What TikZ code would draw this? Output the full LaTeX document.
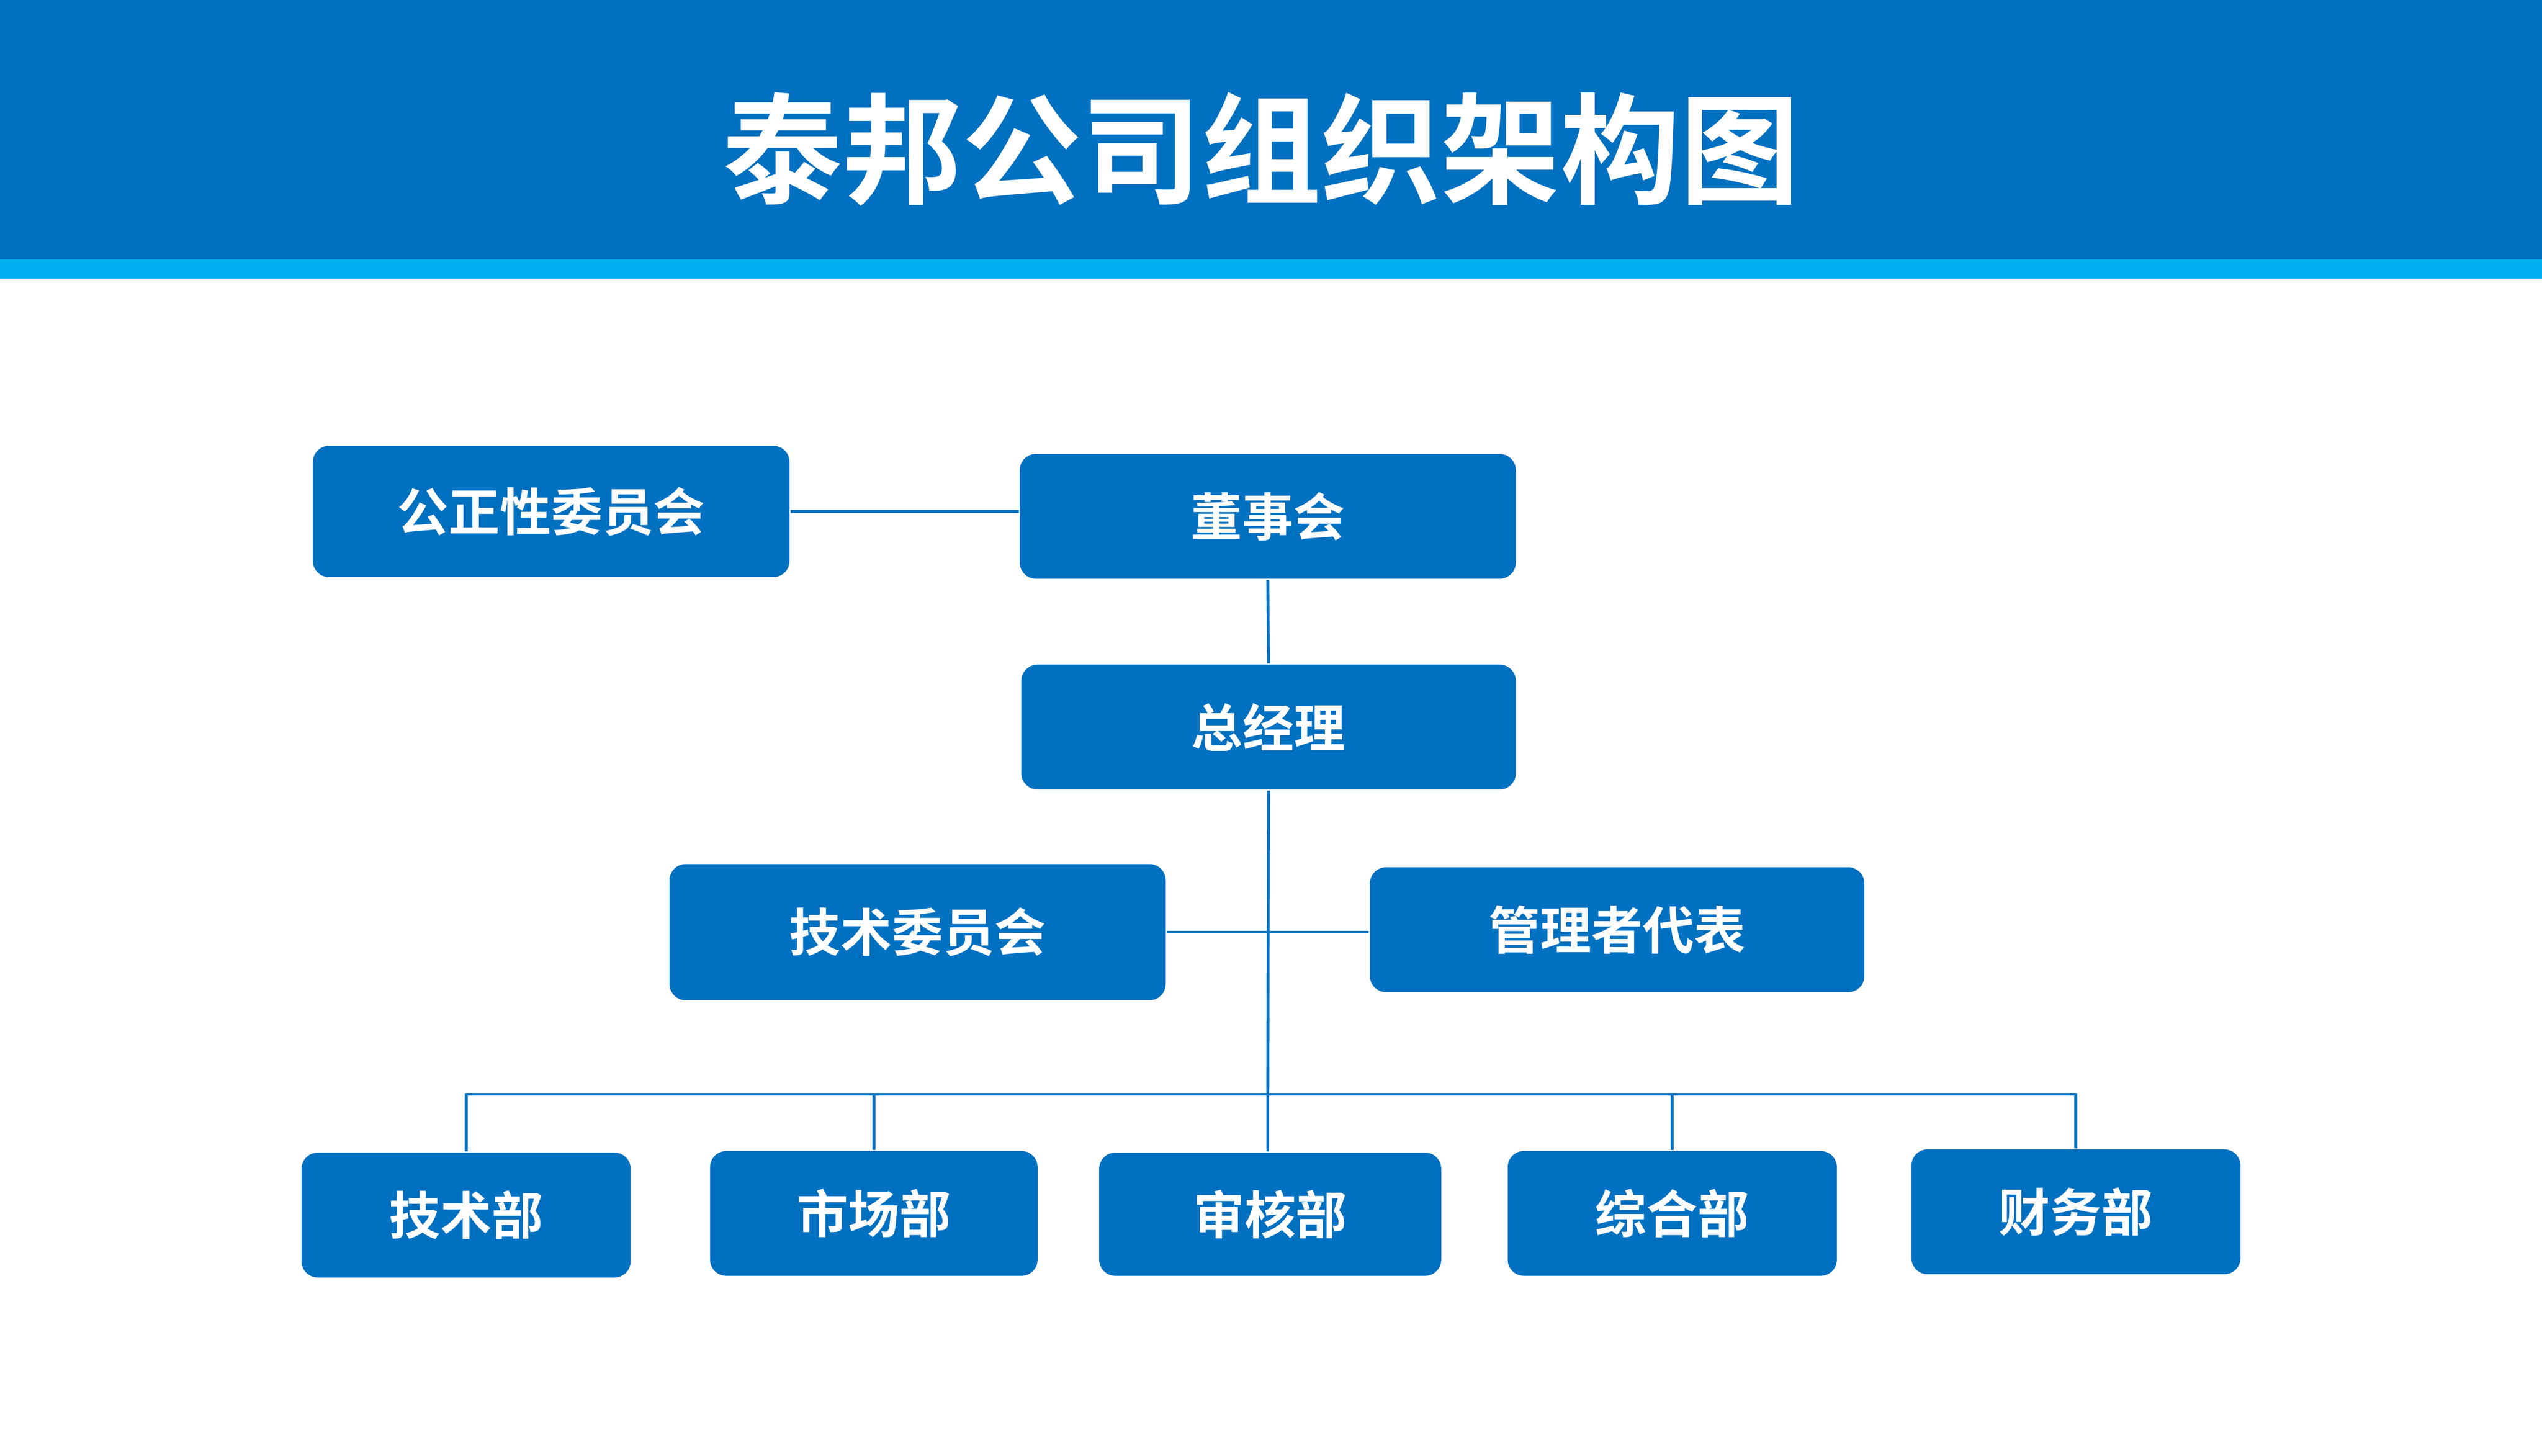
\documentclass[tikz,border=0pt]{standalone}
\usepackage{fontspec}
\newfontfamily\cjk{Noto Sans CJK SC}[BoldFont={* Bold}]
\definecolor{dblue}{RGB}{0,112,192}
\definecolor{lblue}{RGB}{0,176,240}
\tikzset{
  box/.style={fill=dblue,rounded corners=1mm,text=white,font=\cjk\bfseries\fontsize{9pt}{9pt}\selectfont,inner sep=0},
  link/.style={draw=dblue,line width=0.5pt}
}
\begin{document}
\begin{tikzpicture}
  \useasboundingbox (0,0) rectangle (15.68,-8.98);
  % header band
  \fill[dblue] (0,0) rectangle (15.68,-1.60);
  \fill[lblue] (0,-1.60) rectangle (15.68,-1.72);
  \node[text=white,font=\cjk\bfseries\fontsize{21pt}{21pt}\selectfont] (title) at (7.78,-0.92) {泰邦公司组织架构图};
  % boxes
  \node[box,minimum width=2.94cm,minimum height=0.81cm] (gzx) at (3.40,-3.155) {公正性委员会};
  \node[box,minimum width=3.06cm,minimum height=0.77cm] (dsh) at (7.82,-3.185) {董事会};
  \node[box,minimum width=3.05cm,minimum height=0.77cm] (zjl) at (7.825,-4.485) {总经理};
  \node[box,minimum width=3.06cm,minimum height=0.84cm] (jswy) at (5.66,-5.75) {技术委员会};
  \node[box,minimum width=3.05cm,minimum height=0.77cm] (gld) at (9.975,-5.735) {管理者代表};
  \node[box,minimum width=2.03cm,minimum height=0.77cm] (jsb) at (2.875,-7.495) {技术部};
  \node[box,minimum width=2.02cm,minimum height=0.77cm] (scb) at (5.39,-7.485) {市场部};
  \node[box,minimum width=2.11cm,minimum height=0.76cm] (shb) at (7.835,-7.49) {审核部};
  \node[box,minimum width=2.03cm,minimum height=0.77cm] (zhb) at (10.315,-7.485) {综合部};
  \node[box,minimum width=2.03cm,minimum height=0.77cm] (cwb) at (12.805,-7.475) {财务部};
  % connectors
  \coordinate (bus) at (7.82,-6.75);
  \draw[link] (gzx.east) -- (gzx.east -| dsh.west);
  \draw[link] (dsh.south) -- (zjl.south |- zjl.north);
  \draw[link] (zjl.south) -- (bus);
  \draw[link] (jswy.east) -- (gld.west |- jswy.east);
  \draw[link] (jsb.north) |- (bus) -| (cwb.north);
  \draw[link] (scb.north) -- (scb.north |- bus);
  \draw[link] (shb.north -| bus) -- (bus);
  \draw[link] (zhb.north) -- (zhb.north |- bus);
\end{tikzpicture}
\end{document}
